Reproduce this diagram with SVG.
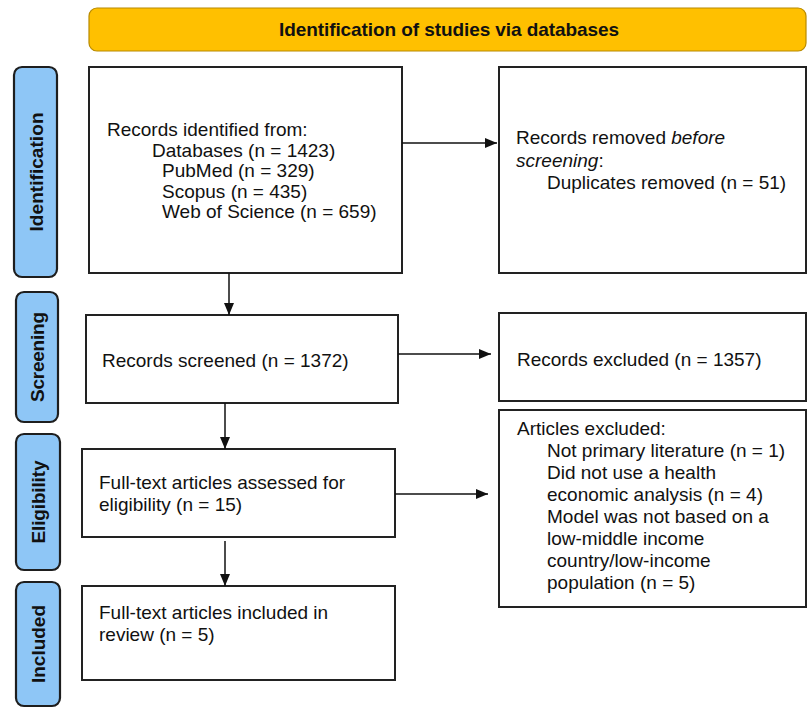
<svg xmlns="http://www.w3.org/2000/svg" width="807" height="708" viewBox="0 0 807 708">
<defs>
<marker id="ah" markerWidth="12" markerHeight="10" refX="12" refY="5" orient="auto" markerUnits="userSpaceOnUse">
<path d="M0,0 L12,5 L0,10 Z" fill="#111"/>
</marker>
<style>
.box{fill:#fff;stroke:#222;stroke-width:2}
.side{fill:#8EC6F6;stroke:#1e1e1e;stroke-width:2.2}
.banner{fill:#FFC000;stroke:#B88A00;stroke-width:1.2}
.t{font-family:"Liberation Sans",Arial,sans-serif;font-size:19px;fill:#111}
.b{font-family:"Liberation Sans",Arial,sans-serif;font-size:19px;font-weight:bold;fill:#111}
.c{stroke:#111;stroke-width:1.5;fill:none;marker-end:url(#ah)}
</style>
</defs>
<rect width="807" height="708" fill="#fff"/>
<g id="banner">
<rect class="banner" x="89" y="8" width="717" height="43" rx="8"/>
<text class="b" x="449" y="36" text-anchor="middle" textLength="340" font-size="18.5">Identification of studies via databases</text>
</g>
<g id="lbl-identification">
<rect class="side" x="14" y="67" width="43" height="210" rx="8"/>
<text class="b" transform="translate(42.5,172) rotate(-90)" text-anchor="middle" textLength="119">Identification</text>
</g>
<g id="lbl-screening">
<rect class="side" x="16" y="292" width="42" height="130" rx="8"/>
<text class="b" transform="translate(44,357) rotate(-90)" text-anchor="middle" textLength="90">Screening</text>
</g>
<g id="lbl-eligibility">
<rect class="side" x="16" y="434" width="44" height="136" rx="8"/>
<text class="b" transform="translate(45,502) rotate(-90)" text-anchor="middle" textLength="83">Eligibility</text>
</g>
<g id="lbl-included">
<rect class="side" x="16" y="582" width="44" height="124" rx="8"/>
<text class="b" transform="translate(45,644) rotate(-90)" text-anchor="middle" textLength="78">Included</text>
</g>
<g id="identified">
<rect class="box" x="89" y="67" width="313" height="206"/>
<text class="t" x="107" y="136">Records identified from:</text>
<text class="t" x="152" y="156.5">Databases (n = 1423)</text>
<text class="t" x="162" y="177">PubMed (n = 329)</text>
<text class="t" x="162" y="197.5">Scopus (n = 435)</text>
<text class="t" x="162" y="218">Web of Science (n = 659)</text>
</g>
<g id="removed">
<rect class="box" x="499" y="67" width="307" height="206"/>
<text class="t" x="516" y="144">Records removed <tspan font-style="italic">before</tspan></text>
<text class="t" x="516" y="166.5"><tspan font-style="italic">screening</tspan>:</text>
<text class="t" x="547" y="189">Duplicates removed (n = 51)</text>
</g>
<g id="screened">
<rect class="box" x="86" y="315" width="312" height="88"/>
<text class="t" x="102" y="367">Records screened (n = 1372)</text>
</g>
<g id="excluded">
<rect class="box" x="499" y="313" width="307" height="88"/>
<text class="t" x="517" y="366">Records excluded (n = 1357)</text>
</g>
<g id="assessed">
<rect class="box" x="82" y="449" width="313" height="88"/>
<text class="t" x="99" y="489">Full-text articles assessed for</text>
<text class="t" x="99" y="511">eligibility (n = 15)</text>
</g>
<g id="articles-excluded">
<rect class="box" x="499" y="410" width="307" height="197"/>
<text class="t" x="517" y="435">Articles excluded:</text>
<text class="t" x="547" y="457">Not primary literature (n = 1)</text>
<text class="t" x="547" y="479">Did not use a health</text>
<text class="t" x="547" y="501">economic analysis (n = 4)</text>
<text class="t" x="547" y="523">Model was not based on a</text>
<text class="t" x="547" y="545">low-middle income</text>
<text class="t" x="547" y="567">country/low-income</text>
<text class="t" x="547" y="589">population (n = 5)</text>
</g>
<g id="included">
<rect class="box" x="82" y="586" width="313" height="94"/>
<text class="t" x="99" y="619">Full-text articles included in</text>
<text class="t" x="99" y="641">review (n = 5)</text>
</g>
<g id="connectors">
<line class="c" x1="402" y1="143" x2="497" y2="143"/>
<line class="c" x1="229" y1="273" x2="229" y2="315"/>
<line class="c" x1="398" y1="354" x2="491" y2="354"/>
<line class="c" x1="225" y1="403" x2="225" y2="449"/>
<line class="c" x1="395" y1="494" x2="488" y2="494"/>
<line class="c" x1="225" y1="541" x2="225" y2="586"/>
</g>
</svg>
